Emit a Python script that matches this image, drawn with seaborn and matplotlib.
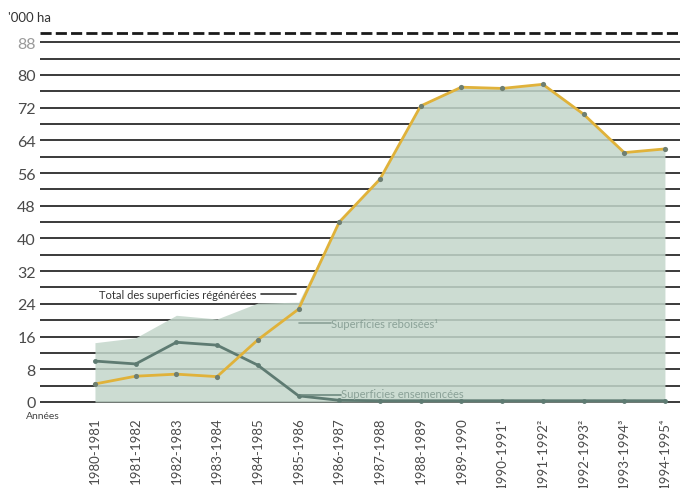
import numpy as np
import pandas as pd
import matplotlib
matplotlib.use("Agg")
import matplotlib.pyplot as plt
import seaborn as sns

years = ["1980-1981", "1981-1982", "1982-1983", "1983-1984", "1984-1985",
         "1985-1986", "1986-1987", "1987-1988", "1988-1989", "1989-1990",
         "1990-1991¹", "1991-1992²", "1992-1993²", "1993-1994³", "1994-1995⁴"]
reboisees = [4.4, 6.3, 6.8, 6.2, 15.2, 22.7, 44.0, 54.5, 72.4, 77.0, 76.7, 77.7, 70.4, 61.0, 61.9]
ensemencees = [10.0, 9.3, 14.6, 13.9, 9.0, 1.5, 0.4, 0.3, 0.3, 0.3, 0.3, 0.3, 0.3, 0.3, 0.3]
total = [14.5, 15.7, 21.2, 20.3, 24.2, 24.4, 44.4, 54.8, 72.7, 77.3, 77.0, 78.0, 70.7, 61.3, 62.2]
yticks = list(range(0, 89, 8))

df = pd.DataFrame({"pos": np.arange(len(years)), "reb": reboisees,
                   "ens": ensemencees, "tot": total})

sns.set_style("white")
plt.rcParams["font.family"] = ["Lato", "DejaVu Sans"]

fig = plt.figure(figsize=(6.8, 4.89), dpi=100)
ax = fig.add_axes([40 / 680, (489 - 405) / 489, 1 - 40 / 680, (405 - 33) / 489])

# grid lines every 4 units
for v in range(0, 89, 4):
    ax.axhline(v, color="#2b2b2b", lw=1.3, zorder=1)
ax.axhline(90.3, color="#1a1a1a", lw=2.0, ls=(0, (4, 1.5)), zorder=1)

ax.fill_between(df["pos"], 0, df["tot"], color="#c3d6cb", alpha=0.85, lw=0, zorder=2)

sns.lineplot(data=df, x="pos", y="ens", ax=ax, color="#5e7b72", lw=2.0,
             marker="o", markersize=3.5, markeredgewidth=0, zorder=3)
sns.lineplot(data=df, x="pos", y="reb", ax=ax, color="#e0b23a", lw=2.0, zorder=4)
sns.scatterplot(data=df, x="pos", y="reb", ax=ax, color="#6e7f72", s=14,
                linewidth=0, zorder=5)

ax.set_xlim(-1.35, 14.37)
ax.set_ylim(-0.5, 90.5)
ax.set_yticks(yticks)
ax.set_yticklabels([str(v) for v in yticks], fontsize=11.5, color="#4a4a4a")
ax.get_yticklabels()[-1].set_color("#9a9a9a")
ax.set_xticks(df["pos"])
ax.set_xticklabels(years, rotation=90, fontsize=9.5, color="#4a4a4a", va="top")
ax.tick_params(axis="both", length=0, pad=3)
ax.tick_params(axis="x", pad=9)
ax.set_xlabel("")
ax.set_ylabel("")
for s in ax.spines.values():
    s.set_visible(False)

# annotations
ax.text(0.1, 26.3, "Total des superficies régénérées", fontsize=8, color="#333333",
        va="center", ha="left", zorder=6)
ax.plot([4.08, 4.95], [26.3, 26.3], color="#333333", lw=1.2, zorder=6)
ax.plot([5.0, 5.8], [19.2, 19.2], color="#8aa197", lw=1.2, zorder=6)
ax.text(5.8, 19.2, "Superficies reboisées¹", fontsize=8, color="#8aa197",
        va="center", ha="left", zorder=6)
ax.plot([5.05, 6.05], [1.8, 1.8], color="#6e8a80", lw=1.2, zorder=6)
ax.text(6.05, 2.0, "Superficies ensemencées", fontsize=8, color="#8aa197",
        va="center", ha="left", zorder=6)

fig.text(8 / 680, 1 - 18 / 489, "'000 ha", fontsize=9.5, color="#333333", va="center")
fig.text(26 / 680, 1 - 417 / 489, "Années", fontsize=7.5, color="#444444", va="center")

fig.savefig("out.png", dpi=100)
